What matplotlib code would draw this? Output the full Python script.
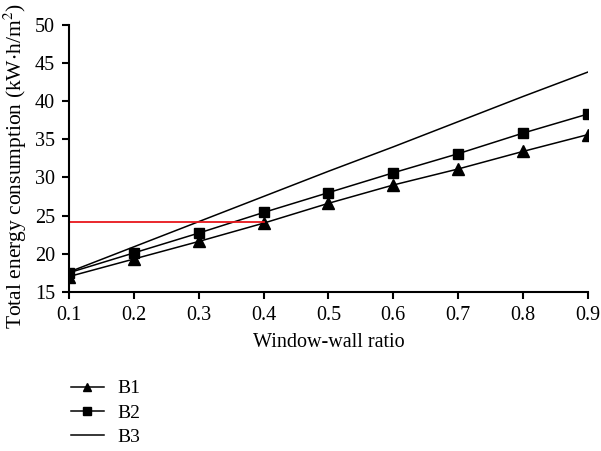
import matplotlib
matplotlib.use("Agg")
import matplotlib.pyplot as plt
import numpy as np

plt.rcParams['font.family'] = ['Liberation Serif', 'DejaVu Serif']
plt.rcParams['mathtext.fontset'] = 'stix'

# datos
ratio = [0.1, 0.2, 0.3, 0.4, 0.5, 0.6, 0.7, 0.8, 0.9]
b1 = [17.0, 19.3, 21.6, 24.0, 26.6, 29.0, 31.1, 33.4, 35.6]
b2 = [17.5, 20.1, 22.7, 25.4, 28.0, 30.6, 33.1, 35.8, 38.3]
b3 = [17.6, 20.9, 24.2, 27.5, 30.8, 34.0, 37.3, 40.6, 43.8]
ref_x = [0.1, 0.4]
ref_y = [24.1, 24.1]

fig = plt.figure(figsize=(6.01, 4.51), dpi=100)
ax = fig.add_axes([0.115, 0.353, 0.863, 0.592])

ax.plot(ratio, b1, color='black', lw=1.1, marker='^', ms=8, label='B1')
ax.plot(ratio, b2, color='black', lw=1.1, marker='s', ms=7, label='B2')
ax.plot(ratio, b3, color='black', lw=1.1, label='B3')
ax.plot(ref_x, ref_y, color='#e8161b', lw=1.3)

ax.set_xlim(0.1, 0.9)
ax.set_ylim(15, 50)
ax.set_xticks(ratio)
ax.set_xticklabels(['%.1f' % v for v in ratio])
ax.set_yticks(np.arange(15, 51, 5))
for s in ['top', 'right']:
    ax.spines[s].set_visible(False)
for s in ['left', 'bottom']:
    ax.spines[s].set_linewidth(1.5)
ax.tick_params(direction='out', length=5, width=1.5, labelsize=14.5, pad=5)

ax.set_xlabel('Window-wall ratio', fontsize=14.5, labelpad=6)
ax.set_ylabel('Total energy consumption (kW$\\cdot$h/m$^2$)', fontsize=15.5)
ax.yaxis.set_label_coords(-0.078, 0.47)

leg = fig.legend(loc='upper left', frameon=False, markerscale=0.8,
                 fontsize=14, handlelength=1.7, handletextpad=0.7,
                 labelspacing=0.35, borderaxespad=0)
leg.set_bbox_to_anchor((0.105, 0.175), transform=fig.transFigure)

fig.savefig('out.png', dpi=100)
